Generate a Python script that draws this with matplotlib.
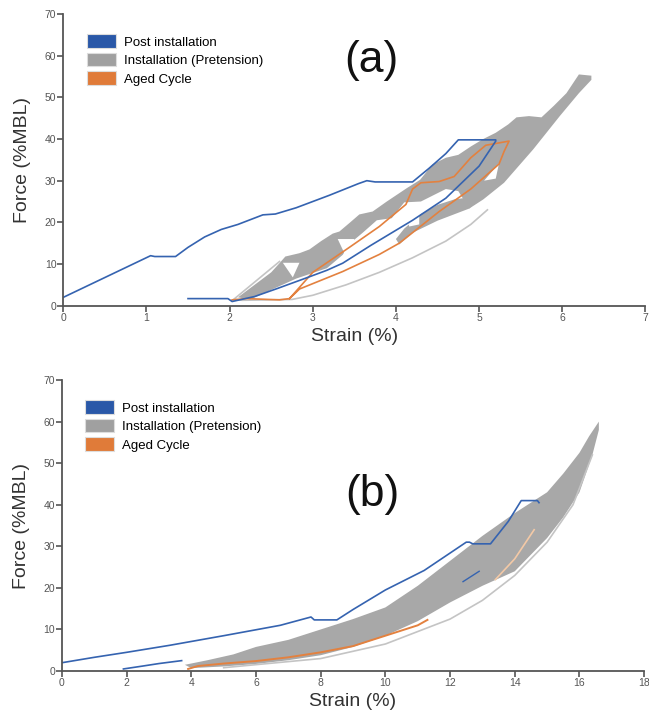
import numpy as np
import matplotlib
matplotlib.use("Agg")
from matplotlib import pyplot as plt
from matplotlib.patches import Patch

plt.rcParams["font.family"] = ["Liberation Sans", "DejaVu Sans"]

BLUE = "#3563b0"
GRAY = "#a8a8a8"
GRAY_LINE = "#c4c4c4"
ORANGE = "#e3813f"

labels = ["Post installation", "Installation (Pretension)", "Aged Cycle"]

# ---- panel (a) : strain (%) vs force (%MBL)
a_post_x = [0, 1.05, 1.1, 1.35, 1.5, 1.7, 1.9, 2.1, 2.4, 2.55, 2.8, 3.2, 3.55, 3.65, 3.75,
            4.2, 4.4, 4.6, 4.75, 5.2, 5.2, 5.0, 4.6, 4.2, 3.7, 3.36, 3.17, 2.9, 2.57, 2.3,
            2.03, 1.98, 1.5]
a_post_y = [2, 12, 11.8, 11.8, 14, 16.5, 18.3, 19.5, 21.8, 22, 23.5, 26.5, 29.3, 30, 29.7,
            29.7, 33, 36.5, 39.8, 39.8, 39.5, 33.5, 25.8, 20.5, 14.5, 10.2, 8.5, 6.5, 4.1, 2.2,
            1.0, 1.7, 1.7]

a_aged_x = [2.03, 2.2, 2.6, 2.72, 3.0, 3.44, 3.8, 4.12, 4.2, 4.3, 4.52, 4.7, 4.9, 5.08, 5.36,
            5.3, 5.24, 4.9, 4.52, 4.04, 3.8, 3.36, 2.84, 2.72]
a_aged_y = [1.4, 1.7, 1.4, 1.7, 8, 14, 19, 24.3, 28, 29.5, 29.8, 31, 35.5, 38.5, 39.5,
            37, 34, 28, 22.6, 15, 12.3, 8.2, 4, 1.7]

# main pretension band (upper edge then lower edge)
a_band_x = [2.1, 2.3, 2.5, 2.6, 2.67, 2.84, 2.96, 3.1, 3.24, 3.32, 3.45, 3.56, 3.72, 3.89,
            4.04, 4.13, 4.29, 4.44, 4.6, 4.75, 4.9, 5.05, 5.2, 5.35, 5.45, 5.6, 5.75, 5.9,
            6.05, 6.2, 6.35,
            6.35, 6.2, 5.97, 5.65, 5.3, 5.05, 4.88, 4.75, 4.6, 4.4, 4.3, 4.1, 3.95, 3.77,
            3.6, 3.45, 3.36, 3.17, 2.8, 2.5, 2.25]
a_band_y = [2.0, 5.0, 8.0, 10.2, 11.8, 12.6, 13.5, 15.5, 17.3, 17.8, 20, 21.9, 22.6, 25,
            27, 28.2, 30.2, 33.9, 35.5, 36.2, 38.2, 40, 41.5, 43.5, 45.2, 45.5, 45.2, 48,
            51, 55.5, 55.2,
            54.2, 51, 45.5, 37.5, 29.5, 25.5, 23.3, 27.5, 28, 26, 25, 24.8, 21, 20.5,
            17.5, 15, 12.2, 9, 6.5, 3.8, 1.5]

# lower pretension lobe under the post-installation curve
a_lobe_x = [4.04, 4.2, 4.5, 4.88, 5.0, 4.88, 4.7, 4.5, 4.3, 4.1, 4.0]
a_lobe_y = [14.7, 17.5, 20.4, 23.3, 25.5, 26, 25.5, 24.2, 22, 18.5, 16]

# white pockets inside the band
a_holes = [
    ([2.64, 2.84, 2.76], [10.3, 10.3, 6.8]),
    ([3.3, 3.5, 3.48, 3.38], [16, 16, 13.5, 12.6]),
    ([4.1, 4.28, 4.28, 4.16], [24.3, 24.3, 19.5, 19]),
    ([5.06, 5.24, 5.2], [30, 34.2, 30.5]),
]

# thin pretension unloading curves
a_thin = [
    ([2.03, 2.6], [1.2, 10.6]),
    ([2.06, 2.15, 2.45, 2.75, 3.0, 3.4, 3.8, 4.2, 4.6, 4.9, 5.1],
     [1.5, 1.3, 1.4, 1.5, 2.5, 5.0, 8.0, 11.5, 15.5, 19.5, 23]),
]

# ---- panel (b)
b_post_x = [0, 1, 2, 3.34, 5, 6.75, 7.7, 7.8, 8.5, 9, 10, 11.2, 12.5, 12.6, 12.7, 13.25,
            13.8, 14.2, 14.7, 14.75]
b_post_y = [2, 3.3, 4.5, 6.2, 8.5, 11, 13, 12.3, 12.3, 14.8, 19.5, 24.2, 31, 31, 30.6, 30.6,
            36, 41, 41, 40.5]
b_post2_x = [1.9, 2.5, 3.0, 3.7]
b_post2_y = [0.5, 1.2, 1.8, 2.5]
b_post3_x = [12.4, 12.9]
b_post3_y = [21.5, 24]

b_band_x = [3.8, 4.5, 5.3, 6, 7, 8, 9, 10, 11, 12, 13, 14, 15, 15.5, 16, 16.3, 16.6,
            16.6, 16.4, 16, 15.5, 15, 14, 13, 12, 11, 10, 9, 8, 7, 6, 5, 4]
b_band_y = [1.5, 2.6, 4.0, 5.8, 7.5, 10.0, 12.5, 15.3, 20.5, 26.5, 32.5, 38, 43, 47.5, 52.5, 56.5, 60,
            58, 52, 43, 37, 32, 24, 20.5, 16.5, 12, 8.5, 5.8, 3.8, 2.6, 1.7, 1.1, 0.7]
b_thin_x = [5, 8, 10, 12, 13, 14, 15, 15.8, 16.4]
b_thin_y = [0.8, 3, 6.5, 12.5, 17, 23, 31, 40, 52]

b_aged_x = [3.9, 4.2, 5, 6, 7, 8, 9, 10, 11, 11.3]
b_aged_y = [0.5, 1.2, 1.8, 2.4, 3.3, 4.5, 6, 8.5, 11, 12.3]
b_aged2_x = [13.4, 14.0, 14.6]
b_aged2_y = [22, 27, 34]


def style_axes(ax, xmax, xstep):
    ax.set_xlim(0, xmax)
    ax.set_ylim(0, 70)
    ax.set_xticks(np.arange(0, xmax + 0.1, xstep))
    ax.set_yticks(np.arange(0, 71, 10))
    for s in ["top", "right"]:
        ax.spines[s].set_visible(False)
    for s in ["left", "bottom"]:
        ax.spines[s].set_color("#555555")
        ax.spines[s].set_linewidth(1.3)
    ax.tick_params(colors="#555555", labelsize=7.5, length=4, width=1.2, pad=1)
    ax.set_xlabel("Strain (%)", fontsize=14, color="#333333")
    ax.set_ylabel("Force (%MBL)", fontsize=14, color="#333333")
    ax.xaxis.set_label_coords(0.5, -0.076)
    ax.yaxis.set_label_coords(-0.055, 0.5)
    handles = [Patch(facecolor=c, edgecolor="#dddddd", linewidth=0.8)
               for c in ["#2a58a8", "#a0a0a0", "#e07b39"]]
    ax.legend(handles, labels, loc="upper left", bbox_to_anchor=(0.04, 0.93),
              frameon=False, fontsize=9.5, handlelength=2.2, handleheight=1.2,
              labelspacing=0.32, borderpad=0, borderaxespad=0, handletextpad=0.6)


fig = plt.figure(figsize=(6.49, 7.22), dpi=100)
ax1 = fig.add_axes([0.0975, 0.5766, 0.897, 0.404])
ax2 = fig.add_axes([0.0955, 0.0706, 0.897, 0.403])

ax1.fill(a_band_x, a_band_y, color=GRAY, lw=0)
ax1.fill(a_lobe_x, a_lobe_y, color=GRAY, lw=0)
for hx, hy in a_holes:
    ax1.fill(hx, hy, color="white", lw=0)
for tx, ty in a_thin:
    ax1.plot(tx, ty, color=GRAY_LINE, lw=1.2)
ax1.plot(a_aged_x, a_aged_y, color=ORANGE, lw=1.2)
ax1.plot(a_post_x, a_post_y, color=BLUE, lw=1.2)
style_axes(ax1, 7, 1)
ax1.text(0.53, 0.84, "(a)", transform=ax1.transAxes, fontsize=32,
         ha="center", va="center", color="#111111")

ax2.fill(b_band_x, b_band_y, color=GRAY, lw=0)
ax2.plot(b_thin_x, b_thin_y, color=GRAY_LINE, lw=1.2)
ax2.plot(b_aged_x, b_aged_y, color=ORANGE, lw=1.4)
ax2.plot(b_aged2_x, b_aged2_y, color="#f3c9a6", lw=1.2)
ax2.plot(b_post_x, b_post_y, color=BLUE, lw=1.2)
ax2.plot(b_post2_x, b_post2_y, color=BLUE, lw=1.2)
ax2.plot(b_post3_x, b_post3_y, color=BLUE, lw=1.0)
style_axes(ax2, 18, 2)
ax2.text(0.533, 0.605, "(b)", transform=ax2.transAxes, fontsize=32,
         ha="center", va="center", color="#111111")

fig.savefig("out.png", dpi=100)
